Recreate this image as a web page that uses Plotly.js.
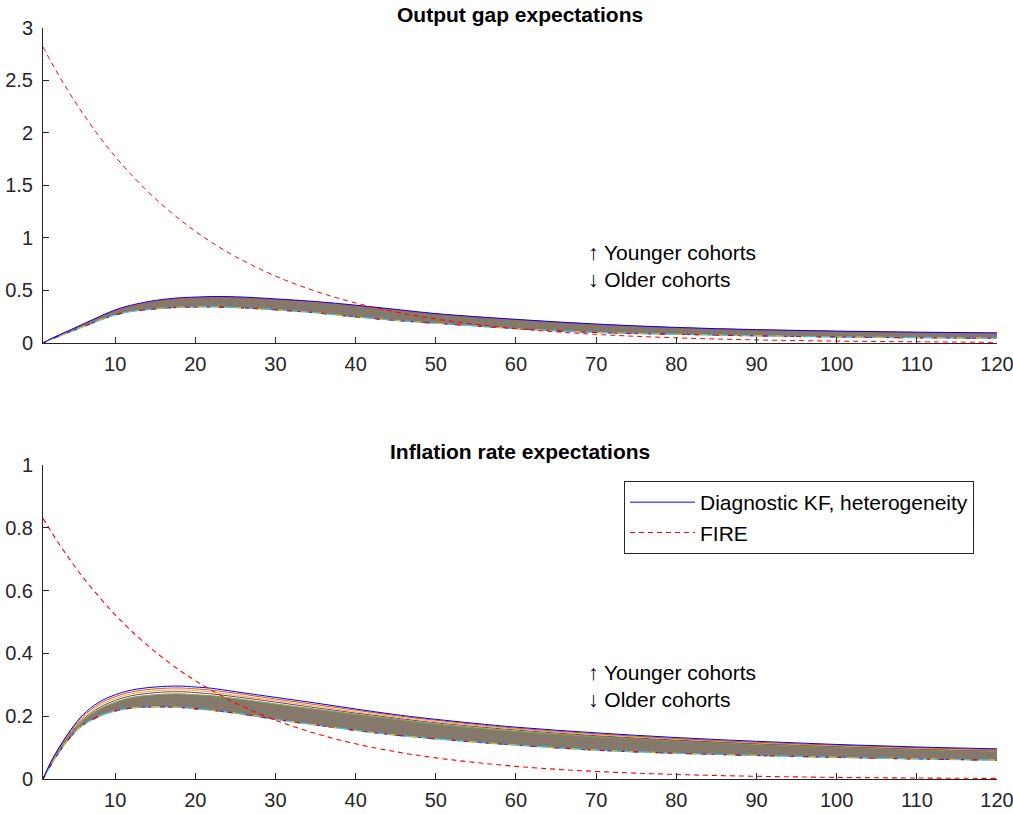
<!DOCTYPE html>
<html>
<head>
<meta charset="utf-8">
<script src="https://cdn.plot.ly/plotly-3.0.1.min.js"></script>
<style>
  body { margin: 0; background: white; }
  #graph { width: 1013px; height: 814px; }
</style>
</head>
<body>
<div id="graph"></div>
<script>
const periods = [1, 2, 3, 4, 5, 6, 8, 10, 12, 15, 18, 20, 22, 25, 30, 35, 40, 45, 50, 60, 70, 80, 90, 100, 110, 120];

// output gap expectations
const gapYoung = [0, 0.04, 0.075, 0.11, 0.145, 0.18, 0.25, 0.315, 0.36, 0.405, 0.43, 0.437, 0.442, 0.44, 0.42, 0.395, 0.36, 0.32, 0.28, 0.225, 0.18, 0.148, 0.127, 0.113, 0.103, 0.096];
const gapNext  = [0, 0.04, 0.074, 0.108, 0.142, 0.176, 0.245, 0.309, 0.353, 0.398, 0.423, 0.43, 0.435, 0.433, 0.414, 0.389, 0.354, 0.315, 0.275, 0.221, 0.177, 0.145, 0.124, 0.11, 0.1, 0.093];
const gapOld   = [0, 0.035, 0.065, 0.095, 0.125, 0.155, 0.215, 0.268, 0.3, 0.325, 0.34, 0.343, 0.344, 0.338, 0.316, 0.288, 0.248, 0.215, 0.188, 0.137, 0.1, 0.083, 0.068, 0.057, 0.05, 0.045];
const gapFire  = [2.82, 2.679, 2.545, 2.418, 2.297, 2.182, 1.969, 1.777, 1.604, 1.375, 1.179, 1.064, 0.96, 0.823, 0.637, 0.493, 0.381, 0.295, 0.228, 0.137, 0.082, 0.049, 0.029, 0.018, 0.011, 0.006];

// inflation rate expectations
const infYoung = [0, 0.055, 0.1, 0.14, 0.175, 0.205, 0.245, 0.268, 0.283, 0.293, 0.296, 0.293, 0.289, 0.278, 0.26, 0.242, 0.223, 0.205, 0.19, 0.165, 0.147, 0.132, 0.12, 0.11, 0.102, 0.096];
const infC1    = [0, 0.054, 0.098, 0.137, 0.171, 0.2, 0.239, 0.262, 0.277, 0.287, 0.29, 0.287, 0.283, 0.273, 0.255, 0.237, 0.219, 0.202, 0.187, 0.162, 0.144, 0.129, 0.117, 0.108, 0.1, 0.094];
const infC2    = [0, 0.053, 0.096, 0.134, 0.167, 0.195, 0.233, 0.256, 0.271, 0.281, 0.284, 0.281, 0.277, 0.267, 0.25, 0.232, 0.214, 0.198, 0.183, 0.159, 0.141, 0.127, 0.115, 0.106, 0.098, 0.092];
const infC3    = [0, 0.052, 0.094, 0.131, 0.163, 0.19, 0.227, 0.25, 0.265, 0.275, 0.278, 0.275, 0.271, 0.262, 0.245, 0.227, 0.21, 0.194, 0.179, 0.156, 0.138, 0.124, 0.113, 0.104, 0.096, 0.09];
const infC4    = [0, 0.051, 0.092, 0.128, 0.159, 0.186, 0.222, 0.244, 0.259, 0.268, 0.271, 0.268, 0.265, 0.256, 0.239, 0.222, 0.206, 0.19, 0.175, 0.152, 0.135, 0.122, 0.111, 0.102, 0.094, 0.088];
const infOld   = [0, 0.045, 0.085, 0.12, 0.15, 0.172, 0.2, 0.217, 0.226, 0.23, 0.228, 0.224, 0.219, 0.21, 0.19, 0.172, 0.155, 0.14, 0.128, 0.108, 0.092, 0.082, 0.075, 0.069, 0.064, 0.06];
const infFire  = [0.83, 0.789, 0.749, 0.712, 0.676, 0.642, 0.58, 0.523, 0.472, 0.405, 0.347, 0.313, 0.283, 0.242, 0.1875, 0.145, 0.112, 0.0869, 0.0672, 0.0403, 0.0241, 0.0144, 0.0086, 0.0052, 0.0031, 0.0019];

const xTicks = [10, 20, 30, 40, 50, 60, 70, 80, 90, 100, 110, 120];
const gapTicks = [0, 0.5, 1, 1.5, 2, 2.5, 3];
const infTicks = [0, 0.2, 0.4, 0.6, 0.8, 1];

const matlab = ['#0072BD', '#D95319', '#EDB120', '#7E2F8E', '#77AC30', '#4DBEEE', '#A2142F'];
const bandColor = '#85796c';
const font = 'Liberation Sans, Arial, sans-serif';

function line(y, ax, color, dash, width) {
	return {
		x: periods, y: y, xaxis: ax[0], yaxis: ax[1],
		type: 'scatter', mode: 'lines', showlegend: false, hoverinfo: 'skip',
		line: { color: color, width: width || 1, dash: dash || 'solid', shape: 'spline' }
	};
}

function cohortBand(lower, upper, ax) {
	const lo = line(lower, ax, bandColor, 'solid', 0.5);
	const hi = line(upper, ax, bandColor, 'solid', 0.5);
	hi.fill = 'tonexty';
	hi.fillcolor = bandColor;
	return [lo, hi];
}

// oldest cohort edge: several colours laid over each other
function oldEdge(y, ax) {
	return [
		line(y, ax, matlab[5], 'solid', 1.2),
		line(y, ax, matlab[2], '6px,14px', 1.2),
		line(y, ax, matlab[3], '4px,22px', 1.2),
		line(y, ax, matlab[6], '3px,9px,5px,17px', 1.2),
		line(y, ax, matlab[4], '2px,30px', 1.2)
	];
}

const axTop = ['x', 'y'];
const axBot = ['x2', 'y2'];

const data = [];
data.push(...cohortBand(gapOld, gapNext, axTop));
data.push(line(gapNext, axTop, matlab[1]));
data.push(...oldEdge(gapOld, axTop));
data.push(line(gapYoung, axTop, '#0000FF'));
data.push(line(gapFire, axTop, '#FF0000', '5px,4px'));

data.push(...cohortBand(infOld, infC4, axBot));
data.push(line(infC4, axBot, matlab[4]));
data.push(line(infC3, axBot, matlab[3]));
data.push(line(infC2, axBot, matlab[2]));
data.push(line(infC1, axBot, matlab[1]));
data.push(...oldEdge(infOld, axBot));

const kf = line(infYoung, axBot, '#0000FF');
kf.showlegend = true;
kf.name = 'Diagnostic KF, heterogeneity';
data.push(kf);
const fire = line(infFire, axBot, '#FF0000', '5px,4px', 1.1);
fire.showlegend = true;
fire.name = 'FIRE';
data.push(fire);

const axisStyle = {
	showgrid: false, zeroline: false, showline: true,
	linecolor: '#262626', linewidth: 1,
	ticks: 'inside', ticklen: 6, tickcolor: '#262626',
	tickfont: { family: font, size: 20, color: '#262626' }
};
const xStyle = Object.assign({}, axisStyle, {
	range: [1, 120], tickvals: xTicks, ticklabelstandoff: 3, ticklabeloverflow: 'allow'
});
const yStyle = Object.assign({}, axisStyle, { ticklabelstandoff: 5 });

const label = (text, ax, x, y) => ({
	text: text, xref: ax[0], yref: ax[1], x: x, y: y, xanchor: 'left', yanchor: 'middle',
	showarrow: false, font: { family: font, size: 21, color: '#000' }
});

const layout = {
	width: 1013, height: 814,
	margin: { l: 43, r: 16, t: 28, b: 35 },
	paper_bgcolor: 'white', plot_bgcolor: 'white',
	font: { family: font, color: '#262626' },
	xaxis: Object.assign({}, xStyle, { anchor: 'y' }),
	yaxis: Object.assign({}, yStyle, { domain: [0.5806, 1], range: [0, 3], tickvals: gapTicks, anchor: 'x' }),
	xaxis2: Object.assign({}, xStyle, { anchor: 'y2' }),
	yaxis2: Object.assign({}, yStyle, { domain: [0, 0.4181], range: [0, 1], tickvals: infTicks, anchor: 'x2' }),
	showlegend: true,
	legend: {
		x: 0.609, y: 0.3968, xanchor: 'left', yanchor: 'top',
		bgcolor: 'white', bordercolor: '#262626', borderwidth: 1,
		font: { family: font, size: 21, color: '#000000' },
		itemwidth: 65, traceorder: 'normal', tracegroupgap: 0
	},
	annotations: [
		{ text: '<b>Output gap expectations</b>', xref: 'paper', yref: 'paper', x: 0.5, y: 1.0186,
		  xanchor: 'center', yanchor: 'middle', showarrow: false, font: { family: font, size: 21, color: '#000' } },
		{ text: '<b>Inflation rate expectations</b>', xref: 'paper', yref: 'paper', x: 0.5, y: 0.4367,
		  xanchor: 'center', yanchor: 'middle', showarrow: false, font: { family: font, size: 21, color: '#000' } },
		label('↑ Younger cohorts', axTop, 68.7, 0.86),
		label('↓ Older cohorts', axTop, 68.7, 0.6),
		label('↑ Younger cohorts', axBot, 68.7, 0.338),
		label('↓ Older cohorts', axBot, 68.7, 0.252)
	]
};

Plotly.newPlot('graph', data, layout, { staticPlot: true });
</script>
</body>
</html>
